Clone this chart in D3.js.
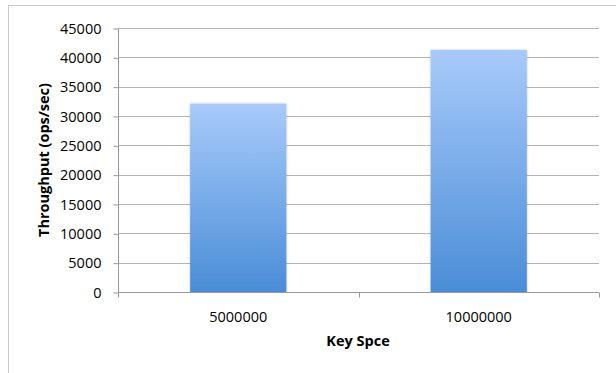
<!DOCTYPE html>
<html><head><meta charset="utf-8">
<script src="https://cdn.jsdelivr.net/npm/d3@7"></script>
<style>body{margin:0;background:#fff}svg{display:block}</style>
</head><body>
<script>
const categories = ["5000000", "10000000"];
const throughput = [32100, 41250];
const yTicks = [0, 5000, 10000, 15000, 20000, 25000, 30000, 35000, 40000, 45000];

const W = 616, H = 373;
const m = {left: 118, right: 17, top: 28, bottom: 81};
const svg = d3.select("body").append("svg").attr("width", W).attr("height", H);
const font = "'Open Sans', 'Liberation Sans', sans-serif";
const fs = 14.5;

// outer border
svg.append("rect").attr("x", 8.5).attr("y", 5.5).attr("width", 640).attr("height", 400)
  .attr("fill", "none").attr("stroke", "#c8c8c8").attr("stroke-width", 1);

const x = d3.scaleBand().domain(categories).range([m.left, W - m.right]).paddingInner(0).paddingOuter(0);
const y = d3.scaleLinear().domain([0, 45000]).range([H - m.bottom, m.top]);

const defs = svg.append("defs");
const g = defs.append("linearGradient").attr("id", "bg").attr("x1", 0).attr("y1", 0).attr("x2", 0).attr("y2", 1);
g.append("stop").attr("offset", "0%").attr("stop-color", "#a8cafa");
g.append("stop").attr("offset", "100%").attr("stop-color", "#4a8dd7");
const f = defs.append("filter").attr("id", "sh").attr("x", "-10%").attr("y", "-10%").attr("width", "120%").attr("height", "120%");
f.append("feDropShadow").attr("dx", 0).attr("dy", 0).attr("stdDeviation", 1.2).attr("flood-color", "#000").attr("flood-opacity", 0.25);

// gridlines
svg.append("g").selectAll("line").data(yTicks.filter(d => d > 0)).join("line")
  .attr("x1", m.left).attr("x2", W - m.right)
  .attr("y1", d => Math.round(y(d)) + 0.5).attr("y2", d => Math.round(y(d)) + 0.5)
  .attr("stroke", "#b3b3b3").attr("stroke-width", 1);

// bars
const bw = x.bandwidth() * 0.4;
svg.append("g").selectAll("rect").data(categories).join("rect")
  .attr("x", (d) => x(d) + (x.bandwidth() - bw) / 2)
  .attr("y", (d, i) => y(throughput[i]))
  .attr("width", bw)
  .attr("height", (d, i) => y(0) - y(throughput[i]))
  .attr("fill", "url(#bg)").attr("filter", "url(#sh)");

// y axis
const yAxis = d3.axisLeft(y).tickValues(yTicks).tickSize(5).tickPadding(12).tickFormat(d3.format("d"));
const ya = svg.append("g").attr("transform", `translate(${m.left + 0.5},0.5)`).call(yAxis);
ya.select(".domain").attr("stroke", "#9a9a9a").attr("d", `M0,${y(0)}V${m.top}`);
ya.selectAll(".tick line").attr("stroke", "#9a9a9a");
ya.selectAll("text").attr("font-family", font).attr("font-size", fs).attr("fill", "#000");

// x axis
const xa = svg.append("g").attr("transform", `translate(0,${Math.round(y(0)) + 0.5})`);
xa.append("line").attr("x1", m.left).attr("x2", W - m.right).attr("stroke", "#9a9a9a");
const bounds = [m.left, ...categories.map(c => x(c) + x.bandwidth())];
xa.selectAll("line.t").data(bounds).join("line").attr("class", "t")
  .attr("x1", d => Math.round(d) + 0.5).attr("x2", d => Math.round(d) + 0.5)
  .attr("y1", 0).attr("y2", 5).attr("stroke", "#9a9a9a");
xa.selectAll("text").data(categories).join("text")
  .attr("x", d => x(d) + x.bandwidth() / 2).attr("y", 29)
  .attr("text-anchor", "middle").attr("font-family", font).attr("font-size", fs).text(d => d);

// titles
svg.append("text").attr("x", 358).attr("y", 346).attr("text-anchor", "middle")
  .attr("font-family", font).attr("font-weight", "bold").attr("font-size", fs).text("Key Spce");
svg.append("text").attr("transform", `translate(49,${(y(0) + y(45000)) / 2}) rotate(-90)`)
  .attr("text-anchor", "middle").attr("font-family", font).attr("font-weight", "bold")
  .attr("font-size", fs).text("Throughput (ops/sec)");
</script>
</body></html>
